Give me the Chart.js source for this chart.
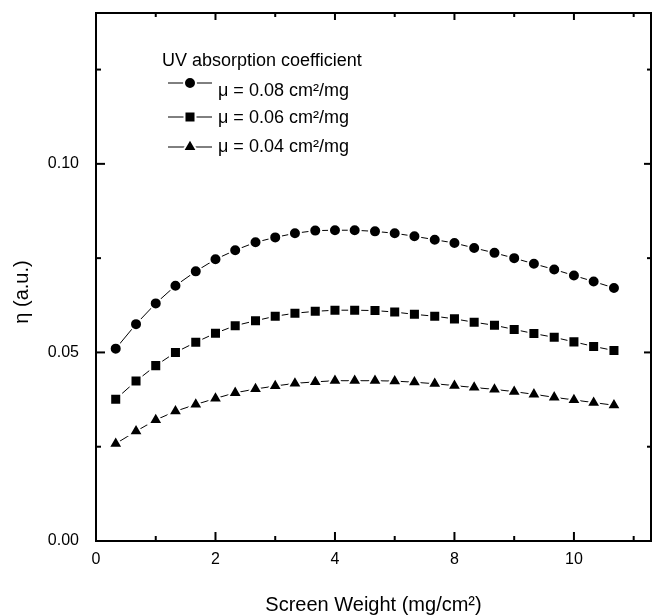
<!DOCTYPE html>
<html>
<head>
<meta charset="utf-8">
<script src="https://cdn.jsdelivr.net/npm/chart.js@4.4.1/dist/chart.umd.min.js"></script>
<style>
body { margin: 0; background: #fff; }
</style>
</head>
<body>
<canvas id="weightChart" width="652" height="616"></canvas>
<script>
// values (x in axis units, ticks at 0..8 labelled as printed)
const screenWeight = [0.33, 0.67, 1.00, 1.33, 1.67, 2.00, 2.33, 2.67, 3.00, 3.33, 3.67, 4.00, 4.33,
                      4.67, 5.00, 5.33, 5.67, 6.00, 6.33, 6.67, 7.00, 7.33, 7.67, 8.00, 8.33, 8.67]
const eta008 = [0.0510, 0.0575, 0.0630, 0.0677, 0.0715, 0.0747, 0.0771, 0.0792, 0.0805, 0.0816, 0.0823, 0.0824, 0.0824,
                0.0821, 0.0816, 0.0808, 0.0799, 0.0790, 0.0777, 0.0764, 0.0750, 0.0735, 0.0720, 0.0704, 0.0688, 0.0671]
const eta006 = [0.0376, 0.0424, 0.0465, 0.0500, 0.0527, 0.0551, 0.0571, 0.0584, 0.0596, 0.0604, 0.0609, 0.0612, 0.0612,
                0.0611, 0.0607, 0.0601, 0.0596, 0.0589, 0.0580, 0.0572, 0.0561, 0.0550, 0.0540, 0.0528, 0.0516, 0.0505]
const eta004 = [0.0258, 0.0291, 0.0321, 0.0344, 0.0362, 0.0378, 0.0393, 0.0403, 0.0411, 0.0418, 0.0422, 0.0425, 0.0425,
                0.0425, 0.0424, 0.0421, 0.0417, 0.0412, 0.0407, 0.0402, 0.0396, 0.0389, 0.0381, 0.0374, 0.0367, 0.0360]

const seriesLabels = ['μ = 0.08 cm²/mg', 'μ = 0.06 cm²/mg', 'μ = 0.04 cm²/mg']
const legendTitle = 'UV absorption coefficient'

const xTickValues = [0, 2, 4, 6, 8]
const xTickLabels = ['0', '2', '4', '8', '10']
const xMinorValues = [1, 3, 5, 7, 9]
const yTickValues = [0, 0.05, 0.10]
const yTickLabels = ['0.00', '0.05', '0.10']
const yMinorValues = [0.025, 0.075, 0.125]

const xTitle = 'Screen Weight (mg/cm²)'
const yTitle = 'η (a.u.)'

const FONT = "'Liberation Sans', Arial, Helvetica, sans-serif"
const weightChart = document.getElementById('weightChart')

function toPoints(ys) {
    return ys.map((y, i) => ({ x: screenWeight[i], y: y }))
}

function findTick(list, v) {
    return list.findIndex(t => Math.abs(t - v) < 1e-9)
}

function line(ctx, x1, y1, x2, y2) {
    ctx.beginPath()
    ctx.moveTo(x1, y1)
    ctx.lineTo(x2, y2)
    ctx.stroke()
}

// box round the plot, ticks pointing inwards on all four sides
const frameTicks = {
    id: 'frameTicks',
    afterDatasetsDraw(chart) {
        const { ctx, chartArea: a, scales: { x, y } } = chart
        ctx.save()
        ctx.strokeStyle = '#000'
        ctx.lineWidth = 2
        ctx.strokeRect(a.left, a.top, a.right - a.left, a.bottom - a.top)
        x.ticks.forEach(t => {
            const px = x.getPixelForValue(t.value)
            const major = findTick(xTickValues, t.value) >= 0
            line(ctx, px, a.bottom, px, a.bottom - (major ? 9 : 5))
            line(ctx, px, a.top, px, a.top + (major ? 7 : 4))
        })
        y.ticks.forEach(t => {
            const py = y.getPixelForValue(t.value)
            const major = findTick(yTickValues, t.value) >= 0
            line(ctx, a.left, py, a.left + (major ? 9 : 5), py)
            line(ctx, a.right, py, a.right - (major ? 7 : 4), py)
        })
        ctx.restore()
    }
}

// legend inside the plot: title line then one row per series
const legendBox = {
    id: 'legendBox',
    afterDraw(chart) {
        const ctx = chart.ctx
        const markerY = [83, 117, 147]
        const textY = [95.5, 122.5, 151.5]
        ctx.save()
        ctx.font = '18px ' + FONT
        ctx.textBaseline = 'alphabetic'
        ctx.textAlign = 'left'
        ctx.fillStyle = '#000'
        ctx.fillText(legendTitle, 162, 66)
        chart.data.datasets.forEach((ds, i) => {
            ctx.strokeStyle = '#000'
            ctx.lineWidth = 1
            line(ctx, 168, markerY[i], 212, markerY[i])
            ctx.fillStyle = '#000'
            ctx.strokeStyle = '#fff'
            ctx.lineWidth = 2
            Chart.helpers.drawPoint(ctx, {
                pointStyle: ds.pointStyle,
                radius: ds.pointRadius,
                rotation: 0,
                borderWidth: 2
            }, 190, markerY[i])
            ctx.fillStyle = '#000'
            ctx.fillText(ds.label, 218, textY[i])
        })
        ctx.restore()
    }
}

const axisTitles = {
    id: 'axisTitles',
    afterDraw(chart) {
        const { ctx, chartArea: a } = chart
        ctx.save()
        ctx.font = '20px ' + FONT
        ctx.fillStyle = '#000'
        ctx.textAlign = 'center'
        ctx.textBaseline = 'middle'
        ctx.fillText(xTitle, (a.left + a.right) / 2, 605)
        ctx.translate(22.5, 292)
        ctx.rotate(-Math.PI / 2)
        ctx.fillText(yTitle, 0, 0)
        ctx.restore()
    }
}

function makeSeries(label, values, style, radius) {
    return {
        label: label,
        data: toPoints(values),
        borderColor: '#000',
        borderWidth: 1,
        pointStyle: style,
        pointRadius: radius,
        pointBackgroundColor: '#000',
        pointBorderColor: '#fff',
        pointBorderWidth: 2,
        tension: 0
    }
}

Chart.defaults.font.family = FONT
Chart.defaults.color = '#000'

new Chart(weightChart, {
    type: 'line',
    data: {
        datasets: [
            makeSeries(seriesLabels[0], eta008, 'circle', 6),
            makeSeries(seriesLabels[1], eta006, 'rect', 7.8),
            makeSeries(seriesLabels[2], eta004, 'triangle', 8.2)
        ]
    },
    options: {
        responsive: false,
        animation: false,
        layout: { autoPadding: false, padding: { top: 13, right: 1, left: 0, bottom: 0 } },
        plugins: {
            legend: { display: false },
            tooltip: { enabled: false }
        },
        scales: {
            x: {
                type: 'linear',
                min: 0,
                max: 9.29,
                grid: { display: false },
                border: { display: false },
                afterBuildTicks: s => {
                    s.ticks = xTickValues.concat(xMinorValues).sort((p, q) => p - q).map(v => ({ value: v }))
                },
                afterFit: s => {
                    s.height = 75
                    s.paddingLeft = 0
                    s.paddingRight = 0
                },
                ticks: {
                    autoSkip: false,
                    maxRotation: 0,
                    padding: 1,
                    font: { size: 16 },
                    callback: value => {
                        const i = findTick(xTickValues, value)
                        return i >= 0 ? xTickLabels[i] : ''
                    }
                }
            },
            y: {
                min: 0,
                max: 0.14,
                grid: { display: false },
                border: { display: false },
                afterBuildTicks: s => {
                    s.ticks = yTickValues.concat(yMinorValues).sort((p, q) => p - q).map(v => ({ value: v }))
                },
                afterFit: s => {
                    s.width = 96
                    s.paddingTop = 0
                    s.paddingBottom = 0
                },
                ticks: {
                    autoSkip: false,
                    padding: 9,
                    font: { size: 16 },
                    callback: value => {
                        const i = findTick(yTickValues, value)
                        return i >= 0 ? yTickLabels[i] : ''
                    }
                }
            }
        }
    },
    plugins: [frameTicks, legendBox, axisTitles]
})
</script>
</body>
</html>
